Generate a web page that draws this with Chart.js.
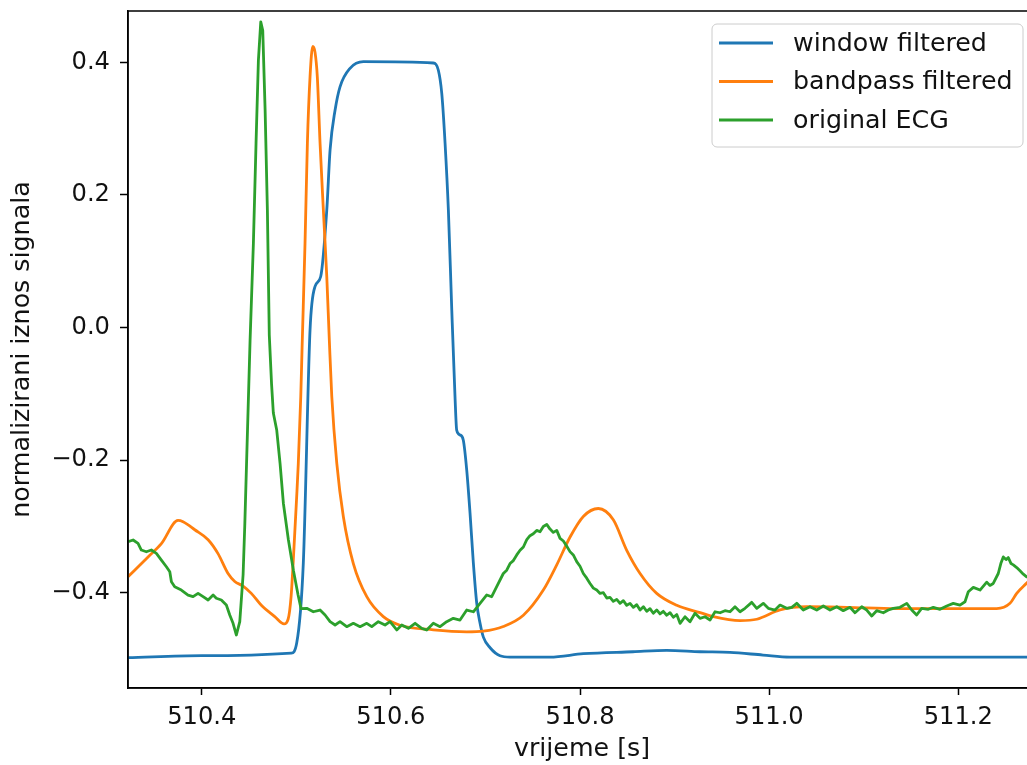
<!DOCTYPE html>
<html>
<head>
<meta charset="utf-8">
<title>ECG filtri</title>
<script src="https://cdn.jsdelivr.net/npm/chart.js@4.4.1/dist/chart.umd.min.js"></script>
<style>
    html, body { margin: 0; padding: 0; background: #fff; overflow: hidden; }
    #wrap { width: 1040px; height: 765px; }
</style>
</head>
<body>
<div id="wrap"><canvas id="ecgChart" width="1040" height="765"></canvas></div>
<script>
// --- 1. Data ---
const windowTime = [510.322, 510.40, 510.4947, 510.5004, 510.5074, 510.5145, 510.5198, 510.5258, 510.5322, 510.5357,
    510.541, 510.5462, 510.5568, 510.5709, 510.6449, 510.6502, 510.6538, 510.6573, 510.6608, 510.6644,
    510.6678, 510.6696, 510.6731, 510.6766, 510.6802, 510.6837, 510.6872, 510.6908, 510.6943, 510.6978,
    510.7049, 510.7154, 510.726, 510.7683, 510.8035, 510.856, 510.8917, 510.927, 510.9586, 510.9935,
    511.022, 511.29];
const windowValues = [-0.498, -0.495, -0.491, -0.476, -0.355, -0.004, 0.062, 0.077, 0.177, 0.268,
    0.328, 0.363, 0.391, 0.401, 0.399, 0.388, 0.353, 0.278, 0.177, 0.026,
    -0.104, -0.155, -0.162, -0.170, -0.215, -0.280, -0.355, -0.416, -0.446, -0.467,
    -0.483, -0.495, -0.497, -0.497, -0.492, -0.489, -0.487, -0.489, -0.490, -0.494,
    -0.497, -0.497];

const bandpassTime = [510.322, 510.3432, 510.3573, 510.3749, 510.3802, 510.3926, 510.4067, 510.4172, 510.4278, 510.4349,
    510.4437, 510.4524, 510.463, 510.4772, 510.487, 510.4913, 510.4945, 510.4976, 510.5002, 510.5021,
    510.5047, 510.5061, 510.5092, 510.5117, 510.5145, 510.5174, 510.5198, 510.5222, 510.5251, 510.5286,
    510.5322, 510.5349, 510.5375, 510.5428, 510.5497, 510.5603, 510.5745, 510.592, 510.6097, 510.6449,
    510.6802, 510.6978, 510.7189, 510.7401, 510.7612, 510.7754, 510.7895, 510.8035, 510.8194, 510.8352,
    510.8494, 510.8635, 510.8811, 510.9023, 510.927, 510.941, 510.9692, 510.9869, 511.0115, 511.0397,
    511.082, 511.1349, 511.2053, 511.2406, 511.2547, 511.2618, 511.2727, 511.29];
const bandpassValues = [-0.376, -0.346, -0.326, -0.291, -0.293, -0.305, -0.320, -0.341, -0.371, -0.383,
    -0.390, -0.401, -0.419, -0.436, -0.447, -0.440, -0.405, -0.330, -0.260, -0.205,
    -0.104, -0.030, 0.127, 0.278, 0.378, 0.424, 0.415, 0.378, 0.278, 0.177,
    0.077, -0.019, -0.104, -0.205, -0.285, -0.356, -0.406, -0.436, -0.449, -0.456,
    -0.459, -0.458, -0.451, -0.434, -0.396, -0.358, -0.316, -0.285, -0.273, -0.290,
    -0.336, -0.371, -0.401, -0.419, -0.430, -0.436, -0.442, -0.440, -0.426, -0.421,
    -0.422, -0.424, -0.424, -0.424, -0.416, -0.401, -0.385, -0.360];

const ecgTime = [
    510.3221, 510.3274, 510.3326, 510.3361, 510.3414, 510.3467, 510.352, 510.3573, 510.3626, 510.3662,
    510.3679, 510.3714, 510.3784, 510.3855, 510.3908, 510.3961, 510.4014, 510.4067, 510.412, 510.4154,
    510.4207, 510.426, 510.4296, 510.4331, 510.4366, 510.4402, 510.4437, 510.4455, 510.4511, 510.4546,
    510.4574, 510.4599, 510.4624, 510.4645, 510.467, 510.4694, 510.4714, 510.4738, 510.4757, 510.4793,
    510.4828, 510.4863, 510.4916, 510.4969, 510.5018, 510.505, 510.511, 510.518, 510.5251, 510.5304,
    510.5357, 510.541, 510.5462, 510.5533, 510.5603, 510.5674, 510.5745, 510.5798, 510.5867, 510.5938,
    510.5991, 510.6062, 510.6115, 510.6185, 510.6256, 510.6326, 510.6379, 510.6449, 510.652, 510.659,
    510.666, 510.6731, 510.6802, 510.6872, 510.6943, 510.7014, 510.7066, 510.7119, 510.7189, 510.7225,
    510.726, 510.7292, 510.7331, 510.7366, 510.7401, 510.7437, 510.7471, 510.7506, 510.7542, 510.7577,
    510.7612, 510.7648, 510.7683, 510.7718, 510.7754, 510.7789, 510.7824, 510.786, 510.7894, 510.7929,
    510.7965, 510.8, 510.8035, 510.8071, 510.8106, 510.8141, 510.8177, 510.8212, 510.8247, 510.8283,
    510.8317, 510.8352, 510.8388, 510.8423, 510.8458, 510.8494, 510.8529, 510.8564, 510.86, 510.8635,
    510.867, 510.8705, 510.874, 510.8775, 510.8811, 510.8846, 510.8881, 510.8917, 510.8952, 510.8987,
    510.9023, 510.9058, 510.911, 510.9163, 510.9216, 510.9269, 510.9322, 510.9375, 510.9428, 510.9481,
    510.9533, 510.9586, 510.9639, 510.9692, 510.9745, 510.9816, 510.9869, 510.9938, 510.9991, 511.0062,
    511.0115, 511.0186, 511.0239, 511.0292, 511.0361, 511.0432, 511.0503, 511.0573, 511.0644, 511.0715,
    511.0784, 511.0855, 511.0908, 511.0979, 511.1032, 511.1085, 511.1137, 511.1207, 511.126, 511.1313,
    511.1384, 511.1455, 511.1508, 511.156, 511.1613, 511.1683, 511.1736, 511.1807, 511.1878, 511.1947,
    511.2018, 511.2071, 511.2106, 511.2159, 511.223, 511.2301, 511.2335, 511.237, 511.2423, 511.2452,
    511.2476, 511.2505, 511.2529, 511.2558, 511.2582, 511.2618, 511.2653, 511.2688, 511.2723, 511.2822];
const ecgValues = [
    -0.3231, -0.3205, -0.3255, -0.3356, -0.3382, -0.3356, -0.3406, -0.3507, -0.3608, -0.3683,
    -0.3834, -0.3910, -0.3959, -0.4035, -0.4060, -0.4009, -0.4060, -0.4110, -0.4035, -0.4084,
    -0.4110, -0.4186, -0.4336, -0.4462, -0.4638, -0.4437, -0.3733, -0.2979, -0.019, 0.127,
    0.278, 0.403, 0.461, 0.448, 0.328, 0.177, -0.011, -0.085, -0.129, -0.155,
    -0.205, -0.265, -0.320, -0.366, -0.403, -0.424, -0.4235, -0.4287, -0.4261, -0.4336,
    -0.4437, -0.4487, -0.4437, -0.4512, -0.4461, -0.4512, -0.4461, -0.4512, -0.4437, -0.4487,
    -0.4437, -0.4562, -0.4487, -0.4537, -0.4461, -0.4537, -0.4562, -0.4461, -0.4512, -0.4437,
    -0.4386, -0.4412, -0.4261, -0.4287, -0.4160, -0.4034, -0.4060, -0.3909, -0.371, -0.366,
    -0.356, -0.352, -0.343, -0.336, -0.331, -0.320, -0.314, -0.311, -0.306, -0.308,
    -0.300, -0.297, -0.304, -0.309, -0.306, -0.318, -0.322, -0.330, -0.338, -0.343,
    -0.353, -0.360, -0.371, -0.378, -0.386, -0.393, -0.396, -0.401, -0.400, -0.408,
    -0.407, -0.413, -0.410, -0.416, -0.412, -0.419, -0.416, -0.422, -0.418, -0.426,
    -0.421, -0.428, -0.424, -0.431, -0.426, -0.432, -0.428, -0.434, -0.430, -0.437,
    -0.433, -0.4462, -0.4362, -0.4437, -0.4311, -0.4386, -0.4362, -0.4412, -0.4287, -0.4302,
    -0.4271, -0.4287, -0.4211, -0.4287, -0.4235, -0.4145, -0.4235, -0.4160, -0.4235, -0.4261,
    -0.4186, -0.4235, -0.4220, -0.4160, -0.4261, -0.4211, -0.4261, -0.4200, -0.4261, -0.4211,
    -0.4271, -0.4220, -0.4302, -0.4211, -0.4261, -0.4351, -0.4271, -0.4302, -0.4261, -0.4235,
    -0.4220, -0.4160, -0.4261, -0.4336, -0.4235, -0.4250, -0.4220, -0.4250, -0.4200, -0.4160,
    -0.4186, -0.4136, -0.3985, -0.3919, -0.396, -0.384, -0.389, -0.386, -0.371, -0.355,
    -0.346, -0.350, -0.347, -0.356, -0.358, -0.362, -0.367, -0.372, -0.376, -0.383];

const seriesLabels = ['window filtered', 'bandpass filtered', 'original ECG'];
const seriesColors = ['#1f77b4', '#ff7f0e', '#2ca02c'];
const xTicks = [510.4, 510.6, 510.8, 511.0, 511.2];
const yTicks = [-0.4, -0.2, 0.0, 0.2, 0.4];

const FONT = 'DejaVu Sans';
const TICK_SIZE = 24.2;
const LABEL_SIZE = 25.3;

function toPoints(times, values) {
    return times.map((t, i) => ({ x: t, y: values[i] }));
}

// --- 2. Frame + legend plugin (matplotlib look) ---
const frameAndLegend = {
    id: 'frameAndLegend',
    afterDraw(chart) {
        const c = chart.ctx;
        const a = chart.chartArea;
        c.save();
        c.strokeStyle = '#000';
        c.lineWidth = 1.5;
        c.strokeRect(a.left, a.top, a.right - a.left, a.bottom - a.top);

        // legend box
        const bx = 712, by = 24, bw = 311, bh = 123, r = 5;
        c.beginPath();
        c.moveTo(bx + r, by);
        c.arcTo(bx + bw, by, bx + bw, by + bh, r);
        c.arcTo(bx + bw, by + bh, bx, by + bh, r);
        c.arcTo(bx, by + bh, bx, by, r);
        c.arcTo(bx, by, bx + bw, by, r);
        c.closePath();
        c.fillStyle = 'rgba(255,255,255,0.8)';
        c.fill();
        c.strokeStyle = '#cccccc';
        c.lineWidth = 1;
        c.stroke();

        c.font = LABEL_SIZE + 'px "' + FONT + '"';
        c.textBaseline = 'middle';
        c.fillStyle = '#111';
        seriesLabels.forEach((label, i) => {
            const y = 43 + i * 38.5;
            c.beginPath();
            c.moveTo(719, y);
            c.lineTo(773, y);
            c.strokeStyle = seriesColors[i];
            c.lineWidth = 2.8;
            c.stroke();
            c.fillText(label, 793, y + 1);
        });
        c.restore();
    }
};

// --- 3. Chart ---
const ctx = document.getElementById('ecgChart').getContext('2d');
const tickFont = { family: FONT, size: TICK_SIZE };
const labelFont = { family: FONT, size: LABEL_SIZE };

const ecgChart = new Chart(ctx, {
    type: 'line',
    data: {
        datasets: [
            { label: seriesLabels[0], data: toPoints(windowTime, windowValues), borderColor: seriesColors[0], order: 3, cubicInterpolationMode: 'monotone' },
            { label: seriesLabels[1], data: toPoints(bandpassTime, bandpassValues), borderColor: seriesColors[1], order: 2, cubicInterpolationMode: 'monotone' },
            { label: seriesLabels[2], data: toPoints(ecgTime, ecgValues), borderColor: seriesColors[2], order: 1 }
        ]
    },
    options: {
        responsive: false,
        animation: false,
        devicePixelRatio: 1,
        layout: { padding: { top: 11, right: 4, left: 0, bottom: 0 } },
        elements: {
            point: { radius: 0 },
            line: { borderWidth: 2.8, tension: 0, borderJoinStyle: 'round', borderCapStyle: 'butt' }
        },
        plugins: { legend: { display: false }, tooltip: { enabled: false } },
        scales: {
            x: {
                type: 'linear',
                min: 510.322,
                max: 511.2822,
                afterBuildTicks: s => { s.ticks = xTicks.map(v => ({ value: v })); },
                afterFit: s => { s.height = 77; s.paddingLeft = 0; s.paddingRight = 0; },
                grid: { drawOnChartArea: false, drawTicks: true, tickLength: 7, tickWidth: 1.5, tickColor: '#000' },
                border: { display: true, color: '#000', width: 1.5 },
                ticks: { font: tickFont, color: '#111', padding: 8, maxRotation: 0, callback: v => v.toFixed(1) },
                title: { display: true, text: 'vrijeme [s]', font: labelFont, color: '#111', padding: { top: 0, bottom: 0 } }
            },
            y: {
                min: -0.5437,
                max: 0.4774,
                afterBuildTicks: s => { s.ticks = yTicks.map(v => ({ value: v })); },
                afterFit: s => { s.width = 128; s.paddingTop = 0; s.paddingBottom = 0; },
                grid: { drawOnChartArea: false, drawTicks: true, tickLength: 8, tickWidth: 1.5, tickColor: '#000' },
                border: { display: true, color: '#000', width: 1.5 },
                ticks: {
                    font: tickFont, color: '#111', padding: 10,
                    callback: v => (Math.abs(v) < 1e-9 ? '0.0' : v.toFixed(1).replace('-', '\u2212'))
                },
                title: { display: true, text: 'normalizirani iznos signala', font: labelFont, color: '#111', padding: { top: 7, bottom: 0 } }
            }
        }
    },
    plugins: [frameAndLegend]
});
</script>
</body>
</html>
